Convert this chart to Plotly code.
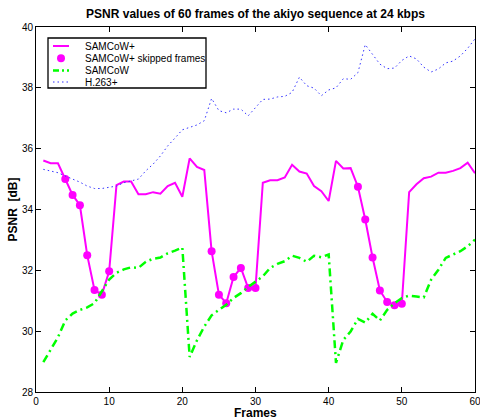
import plotly.graph_objects as go

frames = list(range(1, 61))

samcow_plus = [35.61, 35.52, 35.52, 35.00, 34.48, 34.14, 32.50, 31.35, 31.20, 31.97,
               34.80, 34.92, 34.92, 34.50, 34.50, 34.57, 34.52, 34.77, 34.88, 34.42,
               35.68, 35.40, 35.30, 32.63, 31.20, 30.92, 31.78, 32.08, 31.42, 31.42,
               34.88, 34.96, 34.96, 35.05, 35.47, 35.25, 35.18, 34.77, 34.60, 34.28,
               35.60, 35.35, 35.36, 34.75, 33.67, 32.42, 31.34, 30.96, 30.85, 30.90,
               34.57, 34.83, 35.03, 35.08, 35.21, 35.21, 35.27, 35.36, 35.54, 35.19]

skipped_frames = [4, 5, 6, 7, 8, 9, 10,
                  24, 25, 26, 27, 28, 29, 30,
                  44, 45, 46, 47, 48, 49, 50]

samcow = [28.98, 29.38, 29.80, 30.35, 30.58, 30.70, 30.78, 30.92, 31.30, 31.70,
          31.92, 32.03, 32.10, 32.08, 32.28, 32.38, 32.42, 32.56, 32.65, 32.75,
          29.15, 29.70, 30.15, 30.52, 30.70, 30.87, 31.09, 31.25, 31.45, 31.62,
          31.80, 32.08, 32.21, 32.30, 32.48, 32.41, 32.28, 32.48, 32.43, 32.52,
          28.96, 29.71, 29.99, 30.40, 30.28, 30.57, 30.35, 30.70, 30.92, 31.09,
          31.17, 31.14, 31.11, 31.69, 32.02, 32.41, 32.52, 32.63, 32.79, 33.01]

h263 = [35.32, 35.27, 35.21, 35.10, 35.00, 34.90, 34.77, 34.69, 34.69, 34.72,
        34.77, 34.88, 34.94, 35.00, 35.27, 35.49, 35.76, 36.09, 36.35, 36.62,
        36.70, 36.78, 36.92, 37.65, 37.25, 37.18, 37.30, 37.30, 37.08, 37.35,
        37.62, 37.63, 37.70, 37.72, 37.85, 38.35, 38.07, 37.99, 37.74, 37.93,
        38.00, 38.30, 38.28, 38.50, 39.42, 39.10, 38.78, 38.63, 38.65, 38.90,
        39.05, 38.95, 38.68, 38.52, 38.62, 38.82, 38.88, 39.05, 39.30, 39.61]

x_ticks = [0, 10, 20, 30, 40, 50, 60]
y_ticks = [28, 30, 32, 34, 36, 38, 40]
legend_labels = ["SAMCoW+", "SAMCoW+ skipped frames", "SAMCoW", "H.263+"]
title_text = "PSNR values of 60 frames of the akiyo sequence at 24 kbps"
x_title = "Frames"
y_title = "PSNR  [dB]"

MAGENTA = "#ff00ff"
GREEN = "#00ff00"
BLUE = "#3333ff"
FONT = "Liberation Sans, Arial, Helvetica, sans-serif"

skipped_vals = [samcow_plus[f - 1] for f in skipped_frames]

fig = go.Figure()
fig.add_trace(go.Scatter(x=frames, y=samcow_plus, mode="lines", name=legend_labels[0],
                         line=dict(color=MAGENTA, width=2), showlegend=False))
fig.add_trace(go.Scatter(x=skipped_frames, y=skipped_vals, mode="markers", name=legend_labels[1],
                         marker=dict(color=MAGENTA, size=8), showlegend=False))
fig.add_trace(go.Scatter(x=frames, y=samcow, mode="lines", name=legend_labels[2],
                         line=dict(color=GREEN, width=2.5, dash="8px,4px,2px,4px"), showlegend=False))
fig.add_trace(go.Scatter(x=frames, y=h263, mode="lines", name=legend_labels[3],
                         line=dict(color=BLUE, width=1, dash="1.5px,3px"), showlegend=False))

# plot area in pixels: x 36..475, y 27..392
L, R, T, B = 36, 475, 27, 392
W, H = R - L, B - T


def px(xp):
    return (xp - L) / W


def py(yp):
    return (B - yp) / H


shapes = []
annotations = []

# legend box
shapes.append(dict(type="rect", xref="paper", yref="paper",
                   x0=px(48), x1=px(206), y0=py(88), y1=py(38),
                   line=dict(color="black", width=1.3), fillcolor="white", layer="above"))
rows = [46, 58.3, 70.5, 82]
shapes.append(dict(type="line", xref="paper", yref="paper", x0=px(53), x1=px(69),
                   y0=py(rows[0]), y1=py(rows[0]), line=dict(color=MAGENTA, width=2), layer="above"))
shapes.append(dict(type="circle", xref="paper", yref="paper", xsizemode="pixel", ysizemode="pixel",
                   xanchor=px(61), yanchor=py(rows[1]), x0=-4, x1=4, y0=-4, y1=4,
                   fillcolor=MAGENTA, line=dict(color=MAGENTA, width=0), layer="above"))
shapes.append(dict(type="line", xref="paper", yref="paper", x0=px(53), x1=px(69),
                   y0=py(rows[2]), y1=py(rows[2]),
                   line=dict(color=GREEN, width=2.5, dash="6px,3px,2px,3px"), layer="above"))
shapes.append(dict(type="line", xref="paper", yref="paper", x0=px(53), x1=px(69),
                   y0=py(rows[3]), y1=py(rows[3]),
                   line=dict(color=BLUE, width=1, dash="1.5px,3px"), layer="above"))
for lab, r in zip(legend_labels, rows):
    annotations.append(dict(text=lab, xref="paper", yref="paper", x=px(83), y=py(r),
                            xanchor="left", yanchor="middle", showarrow=False,
                            font=dict(family=FONT, size=10, color="black")))

# axis titles
annotations.append(dict(text="<b>" + x_title + "</b>", xref="paper", yref="paper", x=0.5, y=0,
                        xanchor="center", yanchor="top", yshift=-12.5, showarrow=False,
                        borderpad=0,
                        font=dict(family=FONT, size=12, color="black")))
annotations.append(dict(text="<b>" + y_title + "</b>", xref="paper", yref="paper", x=0, y=0.5,
                        xanchor="center", yanchor="middle", xshift=-24, textangle=-90, showarrow=False,
                        font=dict(family=FONT, size=12, color="black")))

axis_common = dict(showgrid=False, zeroline=False, showline=True, linecolor="black", linewidth=1,
                   mirror="ticks", ticks="inside", ticklen=5, tickwidth=1, tickcolor="black",
                   ticklabeloverflow="allow",
                   tickfont=dict(family=FONT, size=10, color="black"))

fig.update_layout(
    width=480, height=419,
    margin=dict(l=L, r=480 - R, t=T, b=419 - B, autoexpand=False),
    paper_bgcolor="white", plot_bgcolor="white",
    title=dict(text="<b>" + title_text + "</b>", x=0.5, xref="paper", y=1 - 14 / 419,
               yref="container", xanchor="center", yanchor="middle",
               font=dict(family=FONT, size=12, color="black")),
    xaxis=dict(range=[0, 60], tickvals=x_ticks, **axis_common),
    yaxis=dict(range=[28, 40], tickvals=y_ticks, **axis_common),
    shapes=shapes, annotations=annotations, showlegend=False,
)

fig.write_html("out.html", config={"displayModeBar": False},
               post_script="document.body.style.margin='0';document.body.style.overflow='hidden';")
